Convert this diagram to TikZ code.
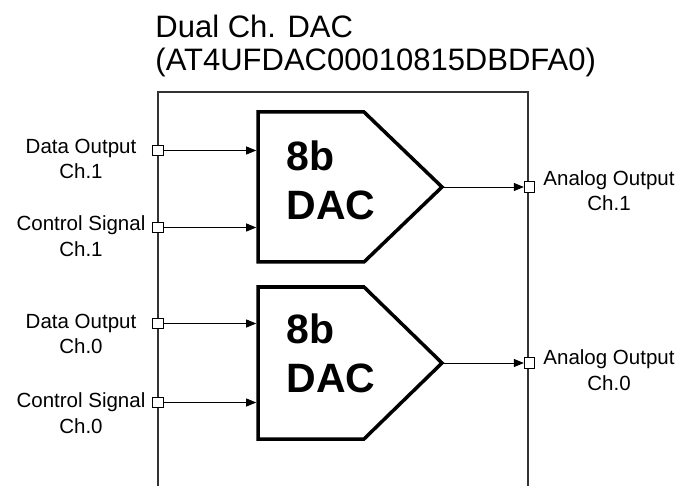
\documentclass[tikz,border=0pt]{standalone}
\usepackage{fontspec}
\setmainfont{Liberation Sans}
\usetikzlibrary{arrows.meta}
\begin{document}
\begin{tikzpicture}[x=1pt,y=-1pt,>={Triangle[length=10pt,width=8pt]},line width=0.9pt,
  port/.style={draw,line width=0.8pt,fill=white,inner sep=0pt,minimum size=10.5pt},
  lbl/.style={align=center,inner sep=0pt,font=\fontsize{20.5}{25.5}\selectfont},
  dacbox/.style={line width=3.5pt,line join=miter},
  daclbl/.style={align=left,inner sep=0pt,anchor=north west,font=\fontsize{41}{49}\selectfont\bfseries}]
\useasboundingbox (0,0) rectangle (677,486);
\node[anchor=north west,align=left,inner sep=0pt,font=\fontsize{31}{33.5}\selectfont] (title) at (155,14.5) {Dual Ch. DAC\\(AT4UFDAC00010815DBDFA0)};
\draw[line width=1.2pt,black!80] (158,486) -- (158,92) -- (528,92) -- (528,486);
% channel 1
\draw[dacbox] (258,112) -- (364,112) -- (442,187) -- (364,262) -- (258,262) -- cycle;
\node[daclbl] (dac1) at (286,140.5) {8b\\DAC};
\coordinate (d1in) at (256.2,150.5); \coordinate (c1in) at (256.2,227.5); \coordinate (t1) at (442,187);
\node[port] (d1) at (158,150.5) {}; \node[port] (c1) at (158,227.5) {}; \node[port] (a1) at (529.5,187) {};
\draw[->] (d1)--(d1in); \draw[->] (c1)--(c1in); \draw[->] (t1)--(a1);
\node[lbl] (ld1) at (81,159) {Data Output\\Ch.1};
\node[lbl] (lc1) at (81,236) {Control Signal\\Ch.1};
\node[lbl] (la1) at (609,190.5) {Analog Output\\Ch.1};
% channel 0
\draw[dacbox] (258,287) -- (364,287) -- (442,363) -- (364,439) -- (258,439) -- cycle;
\node[daclbl] (dac0) at (286,313.5) {8b\\DAC};
\coordinate (d0in) at (256.2,323.5); \coordinate (c0in) at (256.2,402.5); \coordinate (t0) at (442,363);
\node[port] (d0) at (158,323.5) {}; \node[port] (c0) at (158,402.5) {}; \node[port] (a0) at (529.5,363) {};
\draw[->] (d0)--(d0in); \draw[->] (c0)--(c0in); \draw[->] (t0)--(a0);
\node[lbl] (ld0) at (81,334) {Data Output\\Ch.0};
\node[lbl] (lc0) at (81,413) {Control Signal\\Ch.0};
\node[lbl] (la0) at (609,370) {Analog Output\\Ch.0};
\end{tikzpicture}
\end{document}
